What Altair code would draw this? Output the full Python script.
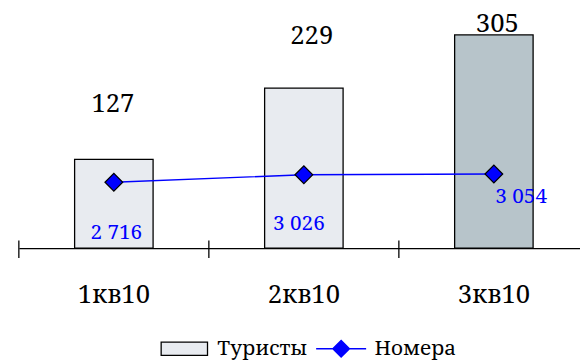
import altair as alt
import pandas as pd

# ---- data ----
quarters = ["1кв10", "2кв10", "3кв10"]
tourists = [127, 229, 305]
rooms = [2716, 3026, 3054]
series_names = ["Туристы", "Номера"]
highlight = ["3кв10"]

room_labels = [f"{v:,}".replace(",", " ") for v in rooms]

df = pd.DataFrame({
    "q": quarters, "t": tourists, "r": rooms, "rl": room_labels,
    "s1": [series_names[0]] * len(quarters),
    "s2": [series_names[1]] * len(quarters),
})

# ---- styles ----
FONT = "Noto Serif, DejaVu Serif, serif"
BAR_FILL = "#e8ebf0"
BAR_HL = "#b7c4ca"
BLUE = "#0000ff"
W, H = 569, 241
N = len(quarters)
STEP = 578 / N              # width of one category slot
P_IN = 0.587
P_OUT = (W / STEP - N + P_IN) / 2
ALIGN = (P_IN / 2) / (2 * P_OUT)
TICK_SHIFT = -STEP * P_IN / 2  # from band start back to the category boundary

# label offsets (dx, dy) relative to their anchor point, per category
BAR_LABEL_OFF = {"1кв10": (-1, -47.5), "2кв10": (8, -44.5), "3кв10": (3.5, -2.7)}
LINE_LABEL_OFF = {"1кв10": (2.5, 57.7), "2кв10": (-5, 56), "3кв10": (27.7, 29.3)}

x_scale = alt.Scale(type="band", paddingInner=P_IN, paddingOuter=P_OUT, align=ALIGN)

x_enc = alt.X(
    "q:N",
    sort=quarters,
    scale=x_scale,
    axis=alt.Axis(
        title=None, ticks=False, tickSize=0, labelAngle=0,
        labelPadding=54.7, labelBaseline="alphabetic",
        labelFont=FONT, labelFontSize=26, labelColor="black",
        domainColor="black", domainWidth=1.3, grid=False,
    ),
)

y_bar = alt.Y("t:Q", scale=alt.Scale(domain=[0, 340]), axis=None)
y_line = alt.Y("r:Q", scale=alt.Scale(domain=[0, 9800]), axis=None)

base = alt.Chart(df)

hl_test = "indexof(" + str(highlight) + ", datum.q) >= 0"

bars = base.mark_bar(stroke="black", strokeWidth=1.3).encode(
    x=x_enc,
    y=y_bar,
    fill=alt.Fill(
        "s1:N",
        condition={"test": hl_test, "value": BAR_HL},
        scale=alt.Scale(domain=[series_names[0]], range=[BAR_FILL]),
        legend=alt.Legend(
            title=None, orient="none", legendX=143.3, legendY=318.5,
            symbolType="M-1,-0.285H1V0.285H-1Z", symbolSize=2209,
            symbolStrokeColor="black", symbolStrokeWidth=1.3,
            labelFont=FONT, labelFontSize=21, labelColor="black", labelOffset=9,
        ),
    ),
)

bar_labels = []
for q in quarters:
    dx, dy = BAR_LABEL_OFF[q]
    bar_labels.append(
        base.transform_filter(alt.datum.q == q)
        .mark_text(font=FONT, fontSize=26, color="black", align="center",
                   baseline="alphabetic", dx=dx, dy=dy)
        .encode(x=x_enc, y=y_bar, text="t:Q")
    )

ticks = base.mark_rule(color="black", strokeWidth=1.3, xOffset=TICK_SHIFT).encode(
    x=alt.X("q:N", sort=quarters, scale=x_scale, bandPosition=0),
    y=alt.value(H - 7.6),
    y2=alt.value(H + 10),
)

bar_group = alt.layer(bars, ticks, *bar_labels)

line = base.mark_line(strokeWidth=1.5).encode(
    x=x_enc,
    y=y_line,
    stroke=alt.Stroke(
        "s2:N",
        scale=alt.Scale(domain=[series_names[1]], range=[BLUE]),
        legend=alt.Legend(
            title=None, orient="none", legendX=300.3, legendY=316.6,
            symbolType="M-1,0H1M0,-0.33L0.33,0L0,0.33L-0.33,0Z", symbolSize=2570,
            symbolFillColor=BLUE, symbolStrokeWidth=1.5,
            labelFont=FONT, labelFontSize=21, labelColor="black", labelOffset=7.3,
        ),
    ),
)

points = base.mark_point(
    shape="diamond", filled=True, size=324, fill=BLUE, stroke="black",
    strokeWidth=1.2, opacity=1,
).encode(x=x_enc, y=y_line)

line_labels = []
for q in quarters:
    dx, dy = LINE_LABEL_OFF[q]
    line_labels.append(
        base.transform_filter(alt.datum.q == q)
        .mark_text(font=FONT, fontSize=21, color=BLUE, align="center",
                   baseline="alphabetic", dx=dx, dy=dy)
        .encode(x=x_enc, y=y_line, text="rl:N")
    )

line_group = alt.layer(line, points, *line_labels)

chart = (
    alt.layer(bar_group, line_group)
    .resolve_scale(y="independent")
    .properties(
        width=W, height=H,
        autosize=alt.AutoSizeParams(type="none"),
        padding={"left": 11, "top": 0, "right": 0, "bottom": 112},
        background="white",
    )
    .configure_view(stroke=None)
)

chart.save("out.html", embed_options={"renderer": "svg", "actions": False})
